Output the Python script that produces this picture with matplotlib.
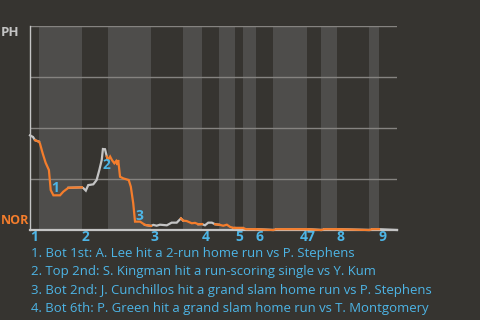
import matplotlib
matplotlib.use('Agg')
import matplotlib.pyplot as plt

# half-inning boundaries, in plate-appearance units
half_bounds = [0, 3, 17.3, 26, 40.3, 51, 57.3, 63, 68.3, 71, 75.3, 81, 92.3, 97, 102.3, 113, 116.3, 122.3]
innings = ['1', '2', '3', '4', '5', '6', '7', '8', '9']

# PH win probability along the game
ev = [0, 1, 1.7, 3,
      3.3, 4.2, 5.2, 6.3, 6.9, 7.8, 10, 11.1, 12.8, 17.3,
      17.8, 18.6, 19.4, 21.1, 22.2, 23.1, 23.9, 24.3, 25, 25.6, 26,
      26.7, 27.3, 28.1, 28.7, 29.1, 29.4, 30, 31.1, 32.9, 33.6, 34.4, 35, 36.7, 38.3, 40.3,
      41.1, 42.2, 43.3, 45.6, 47.2, 48.9, 50.3, 51,
      52.2, 53.9, 55, 56.1, 57.3,
      58.3, 59.4, 60.6, 61.7, 63,
      64.4, 65.6, 66.7, 67.8, 68.3,
      71,
      72, 75.3,
      81,
      82, 92.3,
      97,
      98, 102.3,
      113,
      114, 116.3,
      122.3]
wp = [0.464, 0.456, 0.44, 0.433,
      0.425, 0.377, 0.33, 0.294, 0.196, 0.17, 0.17, 0.188, 0.207, 0.209,
      0.205, 0.193, 0.22, 0.224, 0.245, 0.294, 0.343, 0.397, 0.396, 0.36, 0.343,
      0.36, 0.343, 0.327, 0.338, 0.319, 0.343, 0.261, 0.253, 0.245, 0.212, 0.131, 0.041, 0.041, 0.025, 0.02,
      0.025, 0.021, 0.026, 0.023, 0.036, 0.036, 0.057, 0.046,
      0.044, 0.033, 0.035, 0.028, 0.029,
      0.023, 0.036, 0.036, 0.028, 0.026,
      0.021, 0.026, 0.015, 0.01, 0.01,
      0.01,
      0.004, 0.004,
      0.0,
      0.004, 0.004,
      0.0,
      0.004, 0.004,
      0.0,
      0.004, 0.004,
      0.0]

# key plays
play_ids = ['1', '2', '3', '4']
play_x = [8.3, 25.5, 36.5, 91.2]
play_y = [0.208, 0.319, 0.071, -0.034]
plays = ['1. Bot 1st: A. Lee hit a 2-run home run vs P. Stephens',
         '2. Top 2nd: S. Kingman hit a run-scoring single vs Y. Kum',
         '3. Bot 2nd: J. Cunchillos hit a grand slam home run vs P. Stephens',
         '4. Bot 6th: P. Green hit a grand slam home run vs T. Montgomery']

bg = '#363430'
band = '#4e4d4b'
grid = '#858380'
away_c = '#c4c4c4'
home_c = '#f47d2c'
blue = '#4db5e6'
font = 'Open Sans'

fig = plt.figure(figsize=(4.8, 3.2), dpi=100, facecolor=bg)
ax = fig.add_axes([30 / 480, 1 - 230 / 320, 367 / 480, 204 / 320])
ax.set_facecolor(bg)

for i in range(len(half_bounds) - 1):
    if i % 2 == 1:
        ax.axvspan(half_bounds[i], half_bounds[i + 1], color=band, lw=0, zorder=0)

for g in [0.25, 0.5, 0.75, 1.0]:
    ax.axhline(g, color=grid, lw=1, zorder=1)

for i in range(len(half_bounds) - 1):
    a, b = half_bounds[i], half_bounds[i + 1]
    idx = [k for k in range(len(ev)) if a <= ev[k] <= b]
    if not idx:
        continue
    if idx[0] > 0:
        idx = [idx[0] - 1] + idx
    ax.plot([ev[k] for k in idx], [wp[k] for k in idx],
            color=away_c if i % 2 == 0 else home_c, lw=1.6, zorder=3 + i % 2,
            clip_on=False, solid_joinstyle='miter')

for t, x, y in zip(play_ids, play_x, play_y):
    ax.text(x, y, t, color=blue, fontsize=10, fontweight='bold', family=font,
            ha='center', va='center', zorder=5, clip_on=False)

ax.set_xlim(half_bounds[0], half_bounds[-1])
ax.set_ylim(0, 1)
ax.set_yticks([])
ax.set_xticks(half_bounds[0:-1:2])
ax.set_xticklabels(innings, ha='left', color=blue, fontsize=10, fontweight='bold', family=font)
ax.tick_params(axis='x', length=0, pad=0)

for s in ['top', 'right']:
    ax.spines[s].set_visible(False)
ax.spines['left'].set_color(away_c)
ax.spines['left'].set_linewidth(1)
ax.spines['bottom'].set_color(away_c)
ax.spines['bottom'].set_linewidth(1.6)

fig.text(1 / 480, 1 - 33 / 320, 'PH', color=away_c, fontsize=9.5, fontweight='bold',
         family=font, va='center', ha='left')
fig.text(1 / 480, 1 - 221 / 320, 'NOR', color=home_c, fontsize=9, fontweight='bold',
         family=font, va='center', ha='left')

for k, line in enumerate(plays):
    fig.text(31 / 480, 1 - (253.5 + 18.3 * k) / 320, line, color=blue, fontsize=9.45,
             family=font, va='center', ha='left')

fig.savefig('out.png', dpi=100, facecolor=bg)
